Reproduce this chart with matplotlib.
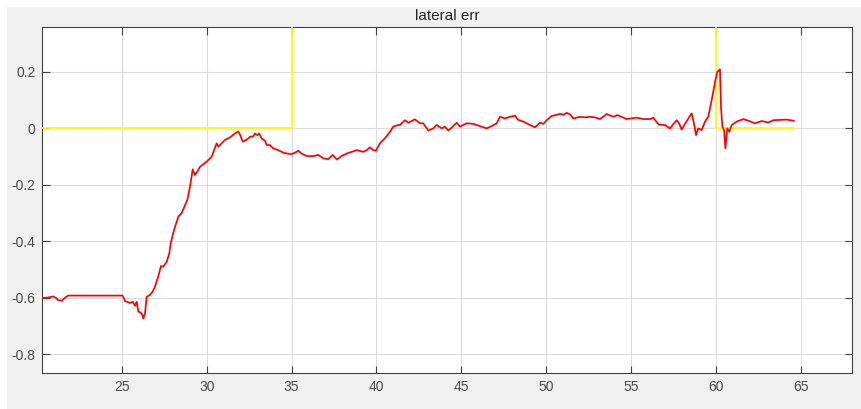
import matplotlib
matplotlib.use("Agg")
import matplotlib.pyplot as plt
from matplotlib.patches import Rectangle

# ---- data ----
err_t = [20.27, 20.64, 20.93, 21.11, 21.23, 21.46, 21.64, 21.82, 22.52, 25.00,
         25.04, 25.12, 25.18, 25.35, 25.47, 25.65, 25.77, 25.87, 25.96, 26.16,
         26.26, 26.36, 26.46, 26.65, 26.81, 26.95, 27.14, 27.30, 27.43, 27.64,
         27.79, 27.87, 28.07, 28.32, 28.52, 28.85, 29.01, 29.17, 29.30, 29.45,
         29.60, 29.99, 30.29, 30.58, 30.68, 30.88, 31.07, 31.37, 31.66, 31.86,
         31.96, 32.12, 32.35, 32.55, 32.74, 32.84, 32.98, 33.09, 33.24, 33.43,
         33.53, 33.72, 33.92, 34.21, 34.51, 34.74, 35.00, 35.20, 35.39, 35.59,
         35.89, 36.28, 36.57, 36.87, 37.16, 37.42, 37.66, 37.95, 38.25, 38.54,
         38.84, 39.23, 39.43, 39.62, 39.81, 39.97, 40.21, 40.50, 40.80, 40.99,
         41.29, 41.39, 41.68, 41.88, 42.27, 42.57, 42.76, 43.06, 43.35, 43.55,
         43.85, 44.04, 44.24, 44.50, 44.73, 44.93, 45.32, 45.71, 46.10, 46.50,
         46.79, 47.09, 47.28, 47.58, 47.87, 48.17, 48.36, 48.66, 49.05, 49.35,
         49.64, 49.84, 50.04, 50.33, 50.63, 50.82, 51.02, 51.21, 51.41, 51.61,
         52.00, 52.29, 52.59, 52.88, 53.18, 53.57, 53.96, 54.20, 54.75, 55.34,
         55.73, 56.13, 56.32, 56.62, 56.91, 57.01, 57.30, 57.70, 57.85, 57.99,
         58.29, 58.58, 58.72, 58.84, 58.97, 59.17, 59.37, 59.56, 59.70, 59.82,
         59.96, 60.09, 60.25, 60.31, 60.39, 60.49, 60.57, 60.68, 60.80, 60.94,
         61.24, 61.63, 61.92, 62.32, 62.71, 63.10, 63.40, 64.18, 64.60]
err_v = [-0.600, -0.599, -0.595, -0.600, -0.608, -0.610, -0.600, -0.592, -0.592, -0.592,
         -0.592, -0.602, -0.612, -0.615, -0.618, -0.614, -0.628, -0.614, -0.648, -0.655,
         -0.673, -0.655, -0.596, -0.590, -0.578, -0.560, -0.524, -0.487, -0.490, -0.472,
         -0.443, -0.407, -0.360, -0.313, -0.300, -0.254, -0.207, -0.145, -0.165, -0.152,
         -0.136, -0.118, -0.100, -0.053, -0.065, -0.053, -0.041, -0.032, -0.018, -0.011,
         -0.022, -0.047, -0.040, -0.030, -0.028, -0.018, -0.024, -0.018, -0.036, -0.044,
         -0.059, -0.059, -0.071, -0.077, -0.086, -0.089, -0.091, -0.086, -0.079, -0.089,
         -0.098, -0.098, -0.094, -0.106, -0.109, -0.094, -0.110, -0.098, -0.089, -0.083,
         -0.077, -0.083, -0.077, -0.067, -0.077, -0.079, -0.053, -0.035, -0.012, 0.006,
         0.012, 0.012, 0.029, 0.020, 0.032, 0.018, 0.018, -0.008, 0.000, 0.012,
         0.000, 0.006, -0.008, 0.006, 0.020, 0.006, 0.018, 0.016, 0.008, 0.000,
         0.008, 0.018, 0.041, 0.035, 0.041, 0.045, 0.030, 0.024, 0.012, 0.004,
         0.020, 0.016, 0.029, 0.044, 0.048, 0.052, 0.048, 0.055, 0.050, 0.035,
         0.041, 0.039, 0.041, 0.039, 0.033, 0.051, 0.041, 0.047, 0.033, 0.038,
         0.033, 0.033, 0.038, 0.014, 0.012, 0.012, 0.000, 0.029, 0.017, -0.004,
         0.026, 0.053, 0.017, -0.024, 0.000, -0.006, 0.024, 0.041, 0.082, 0.118,
         0.165, 0.200, 0.209, 0.077, 0.006, -0.006, -0.071, 0.000, -0.012, 0.012,
         0.024, 0.033, 0.027, 0.018, 0.026, 0.021, 0.029, 0.031, 0.027]

flag_t = [20.27, 35.0, 35.0, 60.0, 60.0, 64.6]
flag_v = [0.0, 0.0, 1.0, 1.0, 0.0, 0.0]

x_ticks = [25, 30, 35, 40, 45, 50, 55, 60, 65]
y_ticks = [-0.8, -0.6, -0.4, -0.2, 0, 0.2]
y_labels = ["-0.8", "-0.6", "-0.4", "-0.2", "0", "0.2"]
title = "lateral err"

# ---- style ----
plt.rcParams['font.family'] = ['Liberation Sans', 'DejaVu Sans']
W, H = 861, 409
fig = plt.figure(figsize=(W / 100, H / 100), dpi=100, facecolor="white")
fig.patches.append(Rectangle((7 / W, 0), 1 - 7 / W, (H - 7) / H,
                             transform=fig.transFigure, facecolor="#f0f0f0",
                             edgecolor="none", zorder=-10))

ax = fig.add_axes([41.7 / W, (H - 372.7) / H, (852.3 - 41.7) / W, (372.7 - 26.7) / H])
ax.set_facecolor("white")

ax.plot(flag_t, flag_v, color="#ffff00", lw=1.3, zorder=3)
ax.plot(err_t, err_v, color="#ff0000", lw=1.25, zorder=4)

ax.set_xlim(20.27, 68.05)
ax.set_ylim(-0.865, 0.36)
ax.set_xticks(x_ticks)
ax.set_xticklabels([str(v) for v in x_ticks])
ax.set_yticks(y_ticks)
ax.set_yticklabels(y_labels)

ax.grid(True, color="#dcdcdc", lw=0.8)
ax.set_axisbelow(True)
ax.tick_params(direction="in", length=5.4, width=0.8, color="#404040",
               labelcolor="#4a4a4a", labelsize=10, top=True, right=True)
ax.tick_params(axis="x", pad=5.5)
ax.tick_params(axis="y", pad=4.5)
for s in ax.spines.values():
    s.set_color("#404040")
    s.set_linewidth(0.8)

ax.set_title(title, fontsize=11, color="#262626", pad=5)

fig.savefig("out.png", dpi=100, facecolor=fig.get_facecolor())
